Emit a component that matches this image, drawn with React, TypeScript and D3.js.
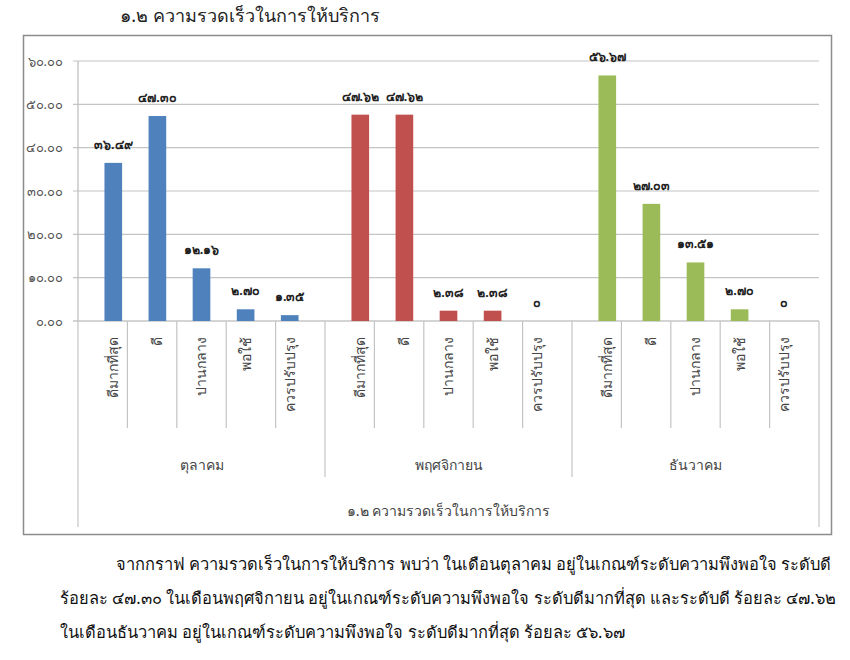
import { useRef, useEffect } from "react";
import * as d3 from "d3";

const months = ["ตุลาคม", "พฤศจิกายน", "ธันวาคม"];
const levels = ["ดีมากที่สุด", "ดี", "ปานกลาง", "พอใช้", "ควรปรับปรุง"];
const octValues = [36.49, 47.3, 12.16, 2.7, 1.35];
const novValues = [47.62, 47.62, 2.38, 2.38, 0];
const decValues = [56.67, 27.03, 13.51, 2.7, 0];
const monthColors = ["#4f81bd", "#c0504d", "#9bbb59"];
const yTicks = [0, 10, 20, 30, 40, 50, 60];
const chartTitle = "๑.๒ ความรวดเร็วในการให้บริการ";
const paragraph = [
  "จากกราฟ ความรวดเร็วในการให้บริการ พบว่า ในเดือนตุลาคม อยู่ในเกณฑ์ระดับความพึงพอใจ ระดับดี",
  "ร้อยละ ๔๗.๓๐  ในเดือนพฤศจิกายน อยู่ในเกณฑ์ระดับความพึงพอใจ ระดับดีมากที่สุด และระดับดี ร้อยละ ๔๗.๖๒",
  "ในเดือนธันวาคม อยู่ในเกณฑ์ระดับความพึงพอใจ ระดับดีมากที่สุด ร้อยละ ๕๖.๖๗",
];

const thaiDigits = "๐๑๒๓๔๕๖๗๘๙";
const toThai = (s: string) => s.replace(/[0-9]/g, (c) => thaiDigits[+c]);

export default function App() {
  const svgRef = useRef<SVGSVGElement>(null);

  useEffect(() => {
    if (!svgRef.current) return;
    const svg = d3.select(svgRef.current);
    svg.selectAll("*").remove();
    const font = "'Noto Sans', 'DejaVu Sans', sans-serif";

    const series = [octValues, novValues, decValues];
    const left = 78;
    const right = 819;
    const top = 61;
    const bottom = 321;

    const x0 = d3.scaleBand().domain(months).range([left, right]);
    const x1 = d3.scaleBand().domain(levels).range([0, x0.bandwidth()]).padding(0.6);
    const step = x0.bandwidth() / levels.length;
    const y = d3.scaleLinear().domain([0, 60]).range([bottom, top]);

    // document heading
    svg
      .append("text")
      .attr("x", 250)
      .attr("y", 22)
      .attr("text-anchor", "middle")
      .attr("font-size", 18)
      .attr("fill", "#222")
      .attr("font-family", font)
      .text(chartTitle);

    // chart frame
    svg
      .append("rect")
      .attr("x", 23.5)
      .attr("y", 35.5)
      .attr("width", 808)
      .attr("height", 499)
      .attr("fill", "#fff")
      .attr("stroke", "#8c8c8c")
      .attr("stroke-width", 1.5);

    // gridlines + y labels
    const g = svg.append("g");
    g.selectAll(".grid")
      .data(yTicks)
      .enter()
      .append("line")
      .attr("x1", left - 5)
      .attr("x2", right)
      .attr("y1", (d) => y(d))
      .attr("y2", (d) => y(d))
      .attr("stroke", (d) => (d === 0 ? "#aaa" : "#c4c4c4"))
      .attr("stroke-width", 1.2);
    g.selectAll(".ylab")
      .data(yTicks)
      .enter()
      .append("text")
      .attr("x", 63)
      .attr("y", (d) => y(d))
      .attr("dy", "0.35em")
      .attr("text-anchor", "end")
      .attr("font-size", 13)
      .attr("fill", "#555")
      .attr("font-family", font)
      .text((d) => toThai(d.toFixed(2)));

    // y axis line
    g.append("line")
      .attr("x1", left)
      .attr("x2", left)
      .attr("y1", top)
      .attr("y2", bottom)
      .attr("stroke", "#bbb")
      .attr("stroke-width", 1.2);

    // category separators
    const seps = d3.range(0, months.length * levels.length + 1).map((i) => {
      const xx = left + i * step;
      let y2 = 428;
      if (i % levels.length === 0) y2 = 477;
      if (i === 0 || i === months.length * levels.length) y2 = 527;
      return { xx, y2 };
    });
    g.selectAll(".sep")
      .data(seps)
      .enter()
      .append("line")
      .attr("x1", (d) => d.xx)
      .attr("x2", (d) => d.xx)
      .attr("y1", bottom)
      .attr("y2", (d) => d.y2)
      .attr("stroke", "#c4c4c4")
      .attr("stroke-width", 1.2);

    months.forEach((m, mi) => {
      const mg = g.append("g").attr("transform", `translate(${x0(m)},0)`);
      const data = levels.map((l, li) => ({ l, v: series[mi][li] }));
      mg.selectAll("rect")
        .data(data)
        .enter()
        .append("rect")
        .attr("x", (d) => x1(d.l)!)
        .attr("width", x1.bandwidth())
        .attr("y", (d) => y(d.v))
        .attr("height", (d) => bottom - y(d.v))
        .attr("fill", monthColors[mi]);
      mg.selectAll(".val")
        .data(data)
        .enter()
        .append("text")
        .attr("x", (d) => x1(d.l)! + x1.bandwidth() / 2)
        .attr("y", (d) => y(d.v) - 14)
        .attr("text-anchor", "middle")
        .attr("font-size", 12.5)
        .attr("font-weight", "bold")
        .attr("fill", "#222")
        .attr("font-family", font)
        .text((d) => (d.v === 0 ? "๐" : toThai(d.v.toFixed(2))));
      mg.selectAll(".cat")
        .data(data)
        .enter()
        .append("text")
        .attr(
          "transform",
          (d) => `translate(${x1(d.l)! + x1.bandwidth() / 2},337) rotate(-90)`
        )
        .attr("dy", "0.35em")
        .attr("text-anchor", "end")
        .attr("font-size", 14)
        .attr("fill", "#444")
        .attr("font-family", font)
        .text((d) => d.l);
      mg.append("text")
        .attr("x", x0.bandwidth() / 2)
        .attr("y", 470)
        .attr("text-anchor", "middle")
        .attr("font-size", 14)
        .attr("fill", "#444")
        .attr("font-family", font)
        .text(m);
    });

    // axis title
    g.append("text")
      .attr("x", (left + right) / 2)
      .attr("y", 516)
      .attr("text-anchor", "middle")
      .attr("font-size", 14)
      .attr("fill", "#444")
      .attr("font-family", font)
      .text(chartTitle);

    // paragraph, sized so the widest line fits the text block
    const lineX = [116, 60, 60];
    const targets = [830 - 116, 830 - 60];
    const para = svg
      .selectAll<SVGTextElement, string>(".para")
      .data(paragraph)
      .enter()
      .append("text")
      .attr("class", "para")
      .attr("x", (_, i) => lineX[i])
      .attr("y", (_, i) => 570 + i * 34)
      .attr("font-size", 17)
      .attr("fill", "#111")
      .attr("font-family", font)
      .text((d) => d);
    let size = 17;
    para.each(function (_, i) {
      if (i < targets.length) {
        const w = this.getComputedTextLength();
        if (w > 0) size = Math.min(size, (17 * targets[i]) / w);
      }
    });
    para.attr("font-size", size);
  }, []);

  return (
    <svg
      ref={svgRef}
      width={850}
      height={660}
      viewBox="0 0 850 660"
      style={{ position: "absolute", left: 0, top: 0, background: "#fff" }}
    />
  );
}
